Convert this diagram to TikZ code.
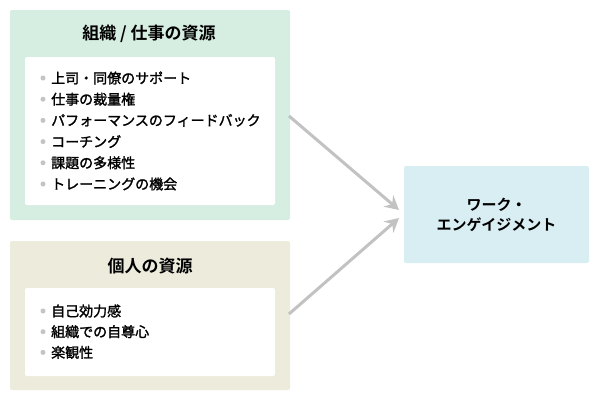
\documentclass[tikz,border=0pt]{standalone}
\usepackage{fontspec}
\setmainfont{Noto Sans CJK JP}
\newfontfamily\jpbold{Noto Sans CJK JP Bold}
\newfontfamily\jpmed[FakeBold=1.6]{Noto Sans CJK JP}
\usetikzlibrary{arrows.meta}
\definecolor{greenbg}{HTML}{D6EDE1}
\definecolor{beigebg}{HTML}{ECEBDC}
\definecolor{bluebg}{HTML}{D9EEF3}
\definecolor{arrowgray}{HTML}{C2C2C2}
\definecolor{bulletgray}{HTML}{C4C4C4}
\begin{document}
\begin{tikzpicture}[x=1pt,y=-1pt,
  outerbox/.style={rounded corners=2pt, inner sep=0pt},
  whitebox/.style={fill=white, rounded corners=2pt},
  titletext/.style={font=\jpbold\fontsize{17}{19}\selectfont, anchor=center, inner sep=0pt},
  itemtext/.style={font=\jpmed\fontsize{14}{16}\selectfont, anchor=west, inner sep=0pt},
  bulletdot/.style={circle, fill=bulletgray, inner sep=0pt, minimum size=5pt},
  flow/.style={draw=arrowgray, line width=3pt, -{Stealth[length=14pt,width=15pt,inset=5pt]}}
]
\useasboundingbox (0,0) rectangle (600,400);
% box 1
\path[fill=greenbg, outerbox] (10,10) rectangle (290,220);
\node[draw=none, inner sep=0pt, minimum width=280pt, minimum height=210pt] (org) at (150,115) {};
\path[whitebox] (25,57) rectangle (275,205);
\node[titletext] (orgtitle) at (149,34) {組織 / 仕事の資源};
\foreach \t [count=\i] in {上司・同僚のサポート,仕事の裁量権,パフォーマンスのフィードバック,コーチング,課題の多様性,トレーニングの機会}{
  \node[bulletdot] (ob\i) at (43,{78+(\i-1)*21.2}) {};
  \node[itemtext] (ot\i) at (51,{78+(\i-1)*21.2}) {\t};
}
% box 2
\path[fill=beigebg, outerbox] (10,241) rectangle (290,390);
\node[draw=none, inner sep=0pt, minimum width=280pt, minimum height=149pt] (per) at (150,315.5) {};
\path[whitebox] (25,288) rectangle (275,376);
\node[titletext] (pertitle) at (150,266) {個人の資源};
\foreach \t [count=\i] in {自己効力感,組織での自尊心,楽観性}{
  \node[bulletdot] (pb\i) at (43,{311+(\i-1)*20.7}) {};
  \node[itemtext] (pt\i) at (51,{311+(\i-1)*20.7}) {\t};
}
% box 3
\node[fill=bluebg, rounded corners=2pt, minimum width=185pt, minimum height=97pt, inner sep=0pt,
  font=\jpbold\fontsize{15}{20}\selectfont, align=center] (we) at (496.5,214.5) {ワーク・\\エンゲイジメント};
% arrows
\coordinate (a1s) at (289,116);
\coordinate (a1e) at (399,210);
\coordinate (a2s) at (289,314);
\coordinate (a2e) at (399,218);
\draw[flow] (a1s) -- (a1e);
\draw[flow] (a2s) -- (a2e);
\end{tikzpicture}
\end{document}
